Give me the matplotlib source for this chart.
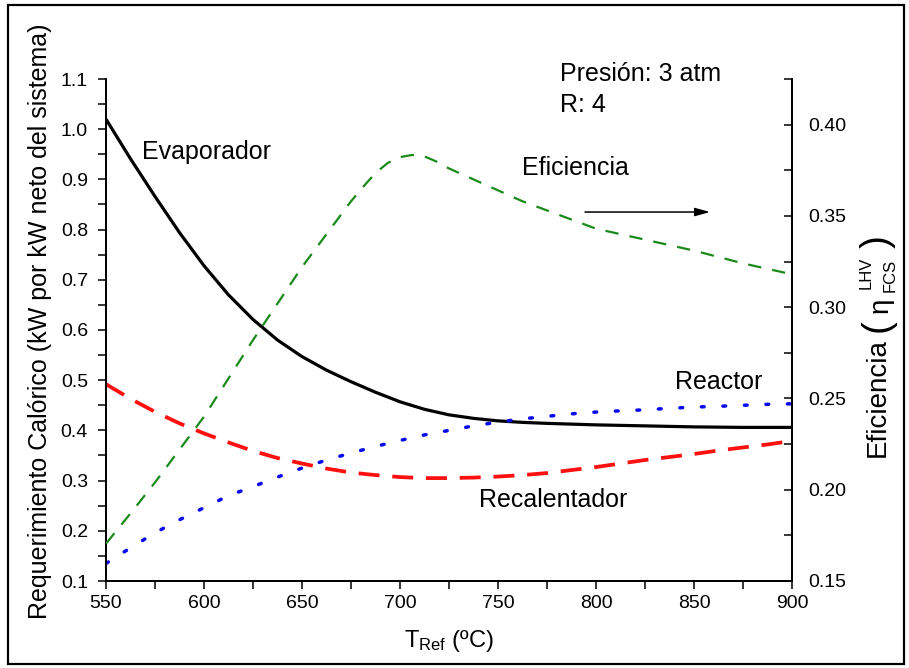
import matplotlib
matplotlib.use("Agg")
import matplotlib.pyplot as plt
from matplotlib.patches import Rectangle
from matplotlib.ticker import MultipleLocator, FormatStrFormatter

plt.rcParams['font.family'] = ['Liberation Sans', 'DejaVu Sans']
plt.rcParams['mathtext.fontset'] = 'custom'
plt.rcParams['mathtext.rm'] = 'Liberation Sans'
plt.rcParams['mathtext.it'] = 'Liberation Sans:italic'

# Reformer temperature (ºC)
t_ref = [550, 562.5, 575, 587.5, 600, 612.5, 625, 637.5, 650, 662.5, 675, 687.5,
         700, 712.5, 725, 737.5, 750, 762.5, 775, 787.5, 800, 812.5, 825, 837.5,
         850, 862.5, 875, 887.5, 900]

# Heat requirement (kW per kW net of the system)
evaporador = [1.020, 0.941, 0.866, 0.794, 0.728, 0.670, 0.621, 0.580, 0.547, 0.520,
              0.497, 0.476, 0.457, 0.442, 0.431, 0.424, 0.419, 0.416, 0.414, 0.4125,
              0.411, 0.410, 0.409, 0.408, 0.407, 0.4065, 0.406, 0.406, 0.406]
recalentador = [0.492, 0.463, 0.437, 0.414, 0.394, 0.376, 0.359, 0.345, 0.334, 0.324,
                0.316, 0.311, 0.307, 0.305, 0.305, 0.306, 0.308, 0.311, 0.315, 0.321,
                0.327, 0.334, 0.341, 0.347, 0.353, 0.360, 0.366, 0.372, 0.379]
reactor = [0.135, 0.166, 0.196, 0.222, 0.246, 0.270, 0.288, 0.307, 0.325, 0.341,
           0.355, 0.368, 0.380, 0.391, 0.400, 0.409, 0.4165, 0.423, 0.428, 0.433,
           0.4365, 0.439, 0.441, 0.444, 0.4465, 0.448, 0.450, 0.452, 0.453]

# System efficiency (LHV), sampled more finely around its maximum
t_efic = [550, 562.5, 575, 587.5, 600, 612.5, 625, 637.5, 650, 662.5, 675, 681.25,
          687.5, 693.75, 700, 706.25, 712.5, 718.75, 725, 737.5, 750, 762.5, 775,
          787.5, 800, 812.5, 825, 837.5, 850, 862.5, 875, 887.5, 900]
eficiencia = [0.1705, 0.187, 0.204, 0.222, 0.240, 0.261, 0.282, 0.302, 0.322, 0.340,
              0.358, 0.366, 0.3735, 0.3790, 0.3822, 0.3834, 0.3826, 0.3797, 0.3760,
              0.370, 0.364, 0.358, 0.353, 0.348, 0.343, 0.340, 0.337, 0.334, 0.331,
              0.3275, 0.324, 0.321, 0.318]

W, H = 909, 668
fig = plt.figure(figsize=(W / 100, H / 100), dpi=100)
ax = fig.add_axes([106 / W, 1 - 581 / H, 686 / W, 502 / H])
ax2 = ax.twinx()

ax.plot(t_ref, evaporador, color='black', lw=2.3, solid_capstyle='butt',
        solid_joinstyle='round', zorder=3)
ax.plot(t_ref, recalentador, color='#ff1010', lw=2.7, dashes=(5.6, 3.4),
        dash_capstyle='butt', zorder=3)
ax.plot(t_ref, reactor, color='#0a0af0', lw=2.5, dashes=(0.8, 5.4),
        dash_capstyle='round', zorder=3)
ax2.plot(t_efic, eficiencia, color='#1a8a1a', lw=1.6, dashes=(6.0, 5.0),
         dash_capstyle='butt', zorder=3)

ax.set_xlim(550, 900)
ax.set_ylim(0.1, 1.1)
ax2.set_ylim(0.15, 0.425)

ax.xaxis.set_major_locator(MultipleLocator(50))
ax.xaxis.set_minor_locator(MultipleLocator(25))
ax.yaxis.set_major_locator(MultipleLocator(0.1))
ax.yaxis.set_minor_locator(MultipleLocator(0.05))
ax.yaxis.set_major_formatter(FormatStrFormatter('%.1f'))
ax2.yaxis.set_major_locator(MultipleLocator(0.05))
ax2.yaxis.set_minor_locator(MultipleLocator(0.025))
ax2.yaxis.set_major_formatter(FormatStrFormatter('%.2f'))

for a in (ax, ax2):
    a.spines['top'].set_visible(False)
    for s in a.spines.values():
        s.set_linewidth(1.3)

ax.tick_params(axis='both', which='both', direction='out', length=6, width=1.1)
ax.tick_params(axis='y', which='major', labelsize=14, pad=7)
ax.tick_params(axis='x', which='major', labelsize=14, pad=4)
ax2.tick_params(axis='y', which='both', direction='in', length=6, width=1.1)
ax2.tick_params(axis='y', which='major', labelsize=14, pad=12)

ax.set_ylabel('Requerimiento Calórico (kW por kW neto del sistema)', fontsize=18)
ax.yaxis.set_label_coords(-0.078, 0.518)
ax.set_xlabel(r'T$_{\mathrm{Ref}}$ (ºC)', fontsize=17)
ax.xaxis.set_label_coords(0.5, -0.094)

# Right-hand axis title: Eficiencia (η with LHV / FCS indices)
def fig_px(x, y):
    return x / W, 1 - y / H

rot = dict(rotation=90, ha='center', va='center')
fig.text(*fig_px(878, 398), 'Eficiencia', fontsize=20, **rot)
fig.text(*fig_px(878, 326), '(', fontsize=28, **rot)
fig.text(*fig_px(881, 305), 'η', fontsize=20, **rot)
fig.text(*fig_px(866, 273), 'LHV', fontsize=12, **rot)
fig.text(*fig_px(890, 275), 'FCS', fontsize=12, **rot)
fig.text(*fig_px(878, 242), ')', fontsize=28, **rot)

txt = dict(fontsize=18, va='center', ha='left')
ax.text(568.2, 0.954, 'Evaporador', **txt)
ax.text(762, 0.923, 'Eficiencia', **txt)
ax.text(840.3, 0.496, 'Reactor', **txt)
ax.text(740.5, 0.261, 'Recalentador', **txt)
ax.text(781.6, 1.11, 'Presión: 3 atm', clip_on=False, **txt)
ax.text(781.6, 1.049, 'R: 4', **txt)

ax.annotate('', xy=(858.2, 0.835), xytext=(794.4, 0.835),
            arrowprops=dict(arrowstyle='-|>,head_length=0.9,head_width=0.25',
                            color='black', lw=1.1, shrinkA=0, shrinkB=0))

fig.patches.append(Rectangle((8 / W, 1 - 664 / H), 896 / W, 659 / H,
                             transform=fig.transFigure, fill=False,
                             edgecolor='black', lw=1.6))

fig.savefig('out.png', dpi=100)
